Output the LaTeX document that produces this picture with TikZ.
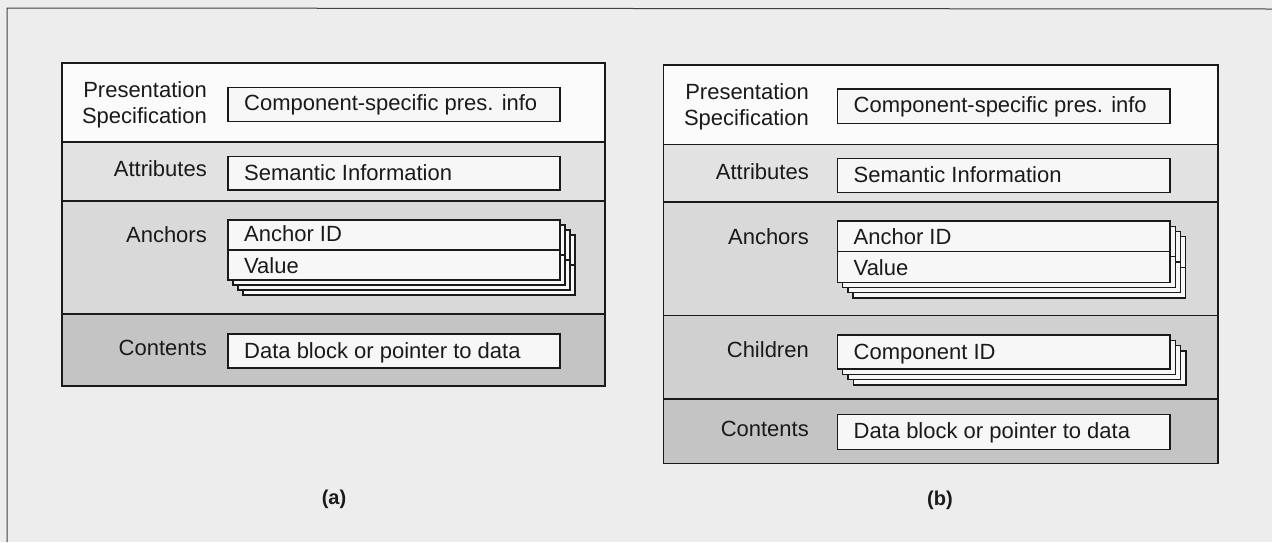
\documentclass[tikz,border=0pt]{standalone}
\usepackage{fontspec}
\setmainfont{Liberation Sans}
\definecolor{bgc}{HTML}{EDEDED}
\definecolor{rowpres}{HTML}{FBFBFB}
\definecolor{rowattr}{HTML}{E2E2E2}
\definecolor{rowanch}{HTML}{D9D9D9}
\definecolor{rowchild}{HTML}{D0D0D0}
\definecolor{rowcont}{HTML}{C4C4C4}
\definecolor{boxfill}{HTML}{F7F7F7}
\definecolor{inkc}{HTML}{1A1A1A}
\begin{document}
\begin{tikzpicture}[x=1pt,y=-1pt,
  lbl/.style={anchor=base east, inner sep=0pt, text=inkc, font=\fontsize{22}{26}\selectfont},
  lbltwo/.style={anchor=east, inner sep=0pt, text=inkc, align=right, font=\fontsize{22}{26}\selectfont},
  txt/.style={anchor=base west, inner sep=0pt, text=inkc, font=\fontsize{22}{26}\selectfont},
  figcap/.style={anchor=base, inner sep=0pt, text=inkc, font=\fontsize{20}{24}\selectfont\bfseries},
  rowline/.style={draw=inkc, line width=1.4pt},
  boxline/.style={draw=inkc, line width=1.3pt, fill=boxfill},
  frameline/.style={draw=black!75, line width=1pt}]
\useasboundingbox (0,0) rectangle (1272,542);
\fill[bgc] (0,0) rectangle (1272,542);
\draw[frameline] (7,542) -- (7,8) -- (1272,9);

% ================= panel (a) =================
\fill[rowpres] (62,63) rectangle (605,142);
\fill[rowattr] (62,142) rectangle (605,201);
\fill[rowanch] (62,201) rectangle (605,314);
\fill[rowcont] (62,314) rectangle (605,386);
\draw[rowline] (62,142) -- (605,142);
\draw[rowline] (62,201) -- (605,201);
\draw[rowline] (62,314) -- (605,314);
\draw[rowline] (62,63) rectangle (605,386);

\node[lbltwo] (aPres) at (207,105) {Presentation\\Specification};
\node[lbl] (aAttr) at (207,176.5) {Attributes};
\node[lbl] (aAnch) at (207,242) {Anchors};
\node[lbl] (aCont) at (207,355) {Contents};

\draw[boxline] (228,87.5) rectangle (560,121.8);
\node[txt] (aPresTxt) at (244,110.5) {Component-specific pres. info};
\draw[boxline] (228,156.7) rectangle (560,190);
\node[txt] (aAttrTxt) at (244,180.5) {Semantic Information};
\foreach \k in {3,2,1,0}{
  \draw[boxline] (228+5*\k,220+5*\k) rectangle (560+5*\k,280+5*\k);
  \draw[inkc, line width=1.3pt] (228+5*\k,250+5*\k) -- (560+5*\k,250+5*\k);
}
\node[txt] (aAnchId) at (244,241.5) {Anchor ID};
\node[txt] (aAnchVal) at (244,273) {Value};
\draw[boxline] (228,334) rectangle (560,368);
\node[txt] (aContTxt) at (244,358.5) {Data block or pointer to data};

\node[figcap] (capA) at (334,504) {(a)};

% ================= panel (b) =================
\fill[rowpres] (663.5,65) rectangle (1218,144.5);
\fill[rowattr] (663.5,144.5) rectangle (1218,202);
\fill[rowanch] (663.5,202) rectangle (1218,315.5);
\fill[rowchild] (663.5,315.5) rectangle (1218,399);
\fill[rowcont] (663.5,399) rectangle (1218,463.5);
\draw[rowline] (663.5,144.5) -- (1218,144.5);
\draw[rowline] (663.5,202) -- (1218,202);
\draw[rowline] (663.5,315.5) -- (1218,315.5);
\draw[rowline] (663.5,399) -- (1218,399);
\draw[rowline] (663.5,65) rectangle (1218,463.5);

\node[lbltwo] (bPres) at (809,106.5) {Presentation\\Specification};
\node[lbl] (bAttr) at (809,179) {Attributes};
\node[lbl] (bAnch) at (809,244.5) {Anchors};
\node[lbl] (bChild) at (809,357) {Children};
\node[lbl] (bCont) at (809,436) {Contents};

\draw[boxline] (837.5,89) rectangle (1170,123.7);
\node[txt] (bPresTxt) at (853.5,112.5) {Component-specific pres. info};
\draw[boxline] (837.5,158.3) rectangle (1170,192.5);
\node[txt] (bAttrTxt) at (853.5,182.5) {Semantic Information};
\foreach \k in {3,2,1,0}{
  \draw[boxline] (837.5+5.2*\k,221+5.2*\k) rectangle (1170+5.2*\k,282.4+5.2*\k);
  \draw[inkc, line width=1.3pt] (837.5+5.2*\k,251.6+5.2*\k) -- (1170+5.2*\k,251.6+5.2*\k);
}
\node[txt] (bAnchId) at (853.5,244) {Anchor ID};
\node[txt] (bAnchVal) at (853.5,275) {Value};
\foreach \k in {3,2,1,0}{
  \draw[boxline] (837.5+5.3*\k,335+5.3*\k) rectangle (1170+5.3*\k,369+5.3*\k);
}
\node[txt] (bChildTxt) at (853.5,359) {Component ID};
\draw[boxline] (837.5,414.8) rectangle (1170,449.4);
\node[txt] (bContTxt) at (853.5,438) {Data block or pointer to data};

\node[figcap] (capB) at (940,505) {(b)};
\end{tikzpicture}
\end{document}
